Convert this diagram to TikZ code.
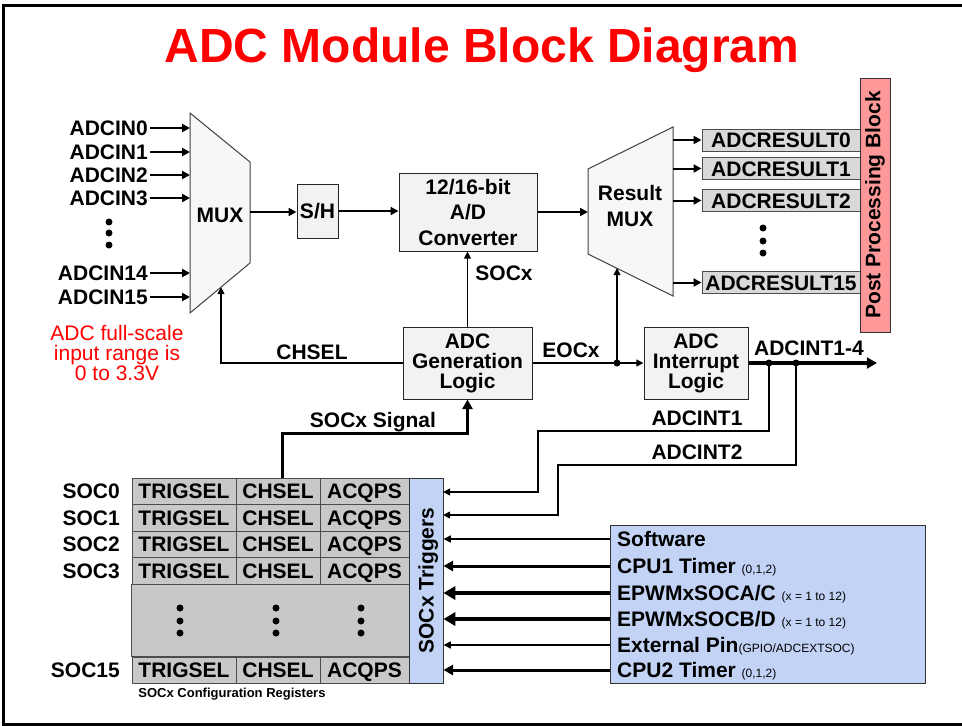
\documentclass[tikz,border=0pt]{standalone}
\usepackage{fontspec}
\setmainfont{Liberation Sans}
\usetikzlibrary{arrows.meta}

\definecolor{adcred}{HTML}{FF0000}
\definecolor{blkgray}{HTML}{F2F2F2}
\definecolor{muxgray}{HTML}{F7F7F7}
\definecolor{resgray}{HTML}{D9D9D9}
\definecolor{cellgray}{HTML}{C8C8C8}
\definecolor{trigblue}{HTML}{C3D3F6}
\definecolor{postpink}{HTML}{FF9999}

\newcommand{\lblfont}{\fontsize{21}{20}\selectfont\bfseries}
\newcommand{\convfont}{\fontsize{21}{25.5}\selectfont\bfseries}
\newcommand{\parfont}{\fontsize{12}{14}\selectfont\mdseries}

\tikzset{
  lbl/.style={font=\lblfont, inner sep=0pt, text height=15pt, text depth=0pt},
  blk/.style={draw=black!85, fill=blkgray, line width=1pt, font=\lblfont, align=center, inner sep=0pt},
  muxshape/.style={draw=black!75, fill=muxgray, line width=1pt},
  resbox/.style={draw=black!70, fill=resgray, line width=1pt, font=\lblfont, inner sep=0pt,
    text height=15pt, text depth=0pt, minimum width=158pt, minimum height=22pt},
  cell/.style={draw=black!70, fill=cellgray, line width=0.8pt, font=\lblfont, inner sep=0pt,
    text height=15pt, text depth=0pt},
  arr/.style={-{Triangle[length=5pt 1.5, width=4pt 2]}},
  wire/.style={line width=1.4pt},
  sig/.style={line width=2pt, arr},
}

\begin{document}
\begin{tikzpicture}[x=1pt, y=-1pt]
  \useasboundingbox (0,0) rectangle (962,726);

  % Frame
  \draw[line width=3pt] (962,5) -- (3,5) -- (3,724) -- (962,724);

  % Title
  \node[font=\fontsize{48}{48}\selectfont\bfseries, text=adcred, anchor=base, inner sep=0pt]
    (title) at (482,62) {ADC Module Block Diagram};

  % Input MUX
  \draw[muxshape] (190,113) -- (250,162) -- (250,263) -- (190,313) -- cycle;
  \node[lbl] (mux) at (220,215) {MUX};
  \coordinate (mux-w) at (190,215);
  \coordinate (mux-e) at (250,212);
  \coordinate (mux-s) at (221,287);

  % Analog inputs
  \foreach \n/\y in {0/128, 1/152, 2/175, 3/198, 14/273, 15/297} {
    \node[lbl, anchor=east] (in\n) at (148,\y) {ADCIN\n};
    \draw[sig] ([xshift=2pt]in\n.east) -- (in\n.east -| mux-w);
  }
  \foreach \y in {222, 233, 245} \fill (109,\y) circle (3.5);

  % Red note
  \node[font=\fontsize{21}{20}\selectfont, text=adcred, align=center, inner sep=0pt]
    (range) at (117,353) {ADC full-scale\\input range is\\0 to 3.3V};

  % S/H and converter
  \node[blk, minimum width=41pt, minimum height=54pt] (sh) at (317.5,211) {S/H};
  \node[blk, font=\convfont, minimum width=138pt, minimum height=78pt] (adc) at (468,212)
    {12/16-bit\\A/D\\Converter};
  \draw[sig] (mux-e) -- (mux-e -| sh.west);
  \draw[sig] (sh.east) -- (sh.east -| adc.west);

  % Result MUX
  \draw[muxshape] (588,169) -- (673,127) -- (673,296) -- (588,254) -- cycle;
  \node[font=\convfont, align=center, inner sep=0pt] (rmux) at (630,206) {Result\\MUX};
  \coordinate (rmux-w) at (588,212);
  \coordinate (rmux-e) at (673,210);
  \coordinate (rmux-s) at (617,268);
  \draw[sig] (adc.east) -- (adc.east -| rmux-w);

  % Result registers
  \foreach \n/\y in {0/140, 1/168.5, 2/200.5, 15/282.5} {
    \node[resbox] (res\n) at (781,\y) {ADCRESULT\n};
    \draw[sig] (res\n.west -| rmux-e) -- (res\n.west);
  }
  \foreach \y in {228, 241, 253} \fill (763,\y) circle (3.5);

  % Post processing
  \node[draw=black!80, fill=postpink, line width=1pt, font=\lblfont, inner sep=0pt,
    minimum width=254pt, minimum height=30pt, rotate=90] (ppb) at (875,205) {Post Processing Block};

  % Generation and interrupt logic
  \node[blk, minimum width=129pt, minimum height=72pt] (gen) at (467.5,363) {ADC\\Generation\\Logic};
  \node[blk, minimum width=104pt, minimum height=72pt] (intl) at (696,363) {ADC\\Interrupt\\Logic};

  \draw[wire, arr] (gen.north) -- (gen.north |- adc.south);
  \node[lbl] (socx) at (504,273) {SOCx};
  \draw[wire, arr] (gen.west) -| (mux-s);
  \node[lbl] (chsel) at (312,352) {CHSEL};

  \coordinate (eoc) at (617,363);
  \draw[wire, arr] (gen.east) -- (intl.west);
  \draw[wire, arr] (eoc) -- (rmux-s);
  \fill (eoc) circle (3.5);
  \node[lbl] (eocx) at (571,350) {EOCx};

  \coordinate (int-out) at (877,363);
  \coordinate (d1) at (769,363);
  \coordinate (d2) at (796,363);
  \draw[line width=3.5pt, arr] (intl.east) -- (int-out);
  \fill (d1) circle (3.5) (d2) circle (3.5);
  \node[lbl] (adcint) at (809,348) {ADCINT1-4};

  % SOC configuration registers
  \foreach \r/\y/\h in {0/491.25/26.5, 1/517.75/26.5, 2/544.25/26.5, 3/570.75/26.5, 15/670/26} {
    \node[lbl, anchor=east] (soc\r) at (120,\y) {SOC\r};
    \node[cell, minimum width=104pt, minimum height=\h pt] (t\r a) at (184,\y) {TRIGSEL};
    \node[cell, minimum width=84pt, minimum height=\h pt] (t\r b) at (278,\y) {CHSEL};
    \node[cell, minimum width=89pt, minimum height=\h pt] (t\r c) at (364.5,\y) {ACQPS};
  }
  \draw[draw=black!70, fill=cellgray, line width=0.8pt] (t3a.south west) rectangle (t15c.north east);
  \foreach \x in {180, 276, 361}
    \foreach \y in {608, 621, 633} \fill (\x,\y) circle (3.5);
  \node[font=\fontsize{13}{13}\selectfont\bfseries, inner sep=0pt] (cfg) at (232,694)
    {SOCx Configuration Registers};

  % SOCx Signal
  \path (gen.south) ++(0,34) coordinate (sb);
  \draw[line width=3pt, arr] ([xshift=4pt]t0b.north) |- (sb) -- (gen.south);
  \node[lbl] (socsig) at (373,420) {SOCx Signal};

  % SOCx triggers
  \node[draw=black!80, fill=trigblue, line width=1pt, minimum width=34pt, minimum height=205pt,
    inner sep=0pt] (trig) at (426,580.5) {};
  \node[lbl, rotate=90] (trig-lbl) at (trig) {SOCx Triggers};

  % Trigger sources
  \node[draw=black!80, fill=trigblue, line width=1pt, minimum width=315pt, minimum height=158pt,
    inner sep=0pt] (src) at (767.5,604) {};
  \node[lbl, anchor=west] (s1) at (617,539) {Software};
  \node[lbl, anchor=west] (s2) at (617,566) {CPU1 Timer \parfont(0,1,2)};
  \node[lbl, anchor=west] (s3) at (617,593) {EPWMxSOCA/C \parfont(x = 1 to 12)};
  \node[lbl, anchor=west] (s4) at (617,619) {EPWMxSOCB/D \parfont(x = 1 to 12)};
  \node[lbl, anchor=west] (s5) at (617,645) {External Pin\parfont(GPIO/ADCEXTSOC)};
  \node[lbl, anchor=west] (s6) at (617,670) {CPU2 Timer \parfont(0,1,2)};
  \foreach \i/\w in {1/1.5, 2/3, 3/4.5, 4/4.5, 5/1.5, 6/3}
    \draw[line width=\w pt, arr] (s\i.west -| src.west) -- (s\i.west -| trig.east);

  % Interrupt feedback
  \coordinate (k1) at (538,431);
  \coordinate (k2) at (558,465);
  \coordinate (e1) at (443,492);
  \coordinate (e2) at (443,515);
  \draw[wire, arr] (d1) |- (k1) |- (e1);
  \draw[wire, arr] (d2) |- (k2) |- (e2);
  \node[lbl] (int1) at (697,418) {ADCINT1};
  \node[lbl] (int2) at (697,452) {ADCINT2};
\end{tikzpicture}
\end{document}
